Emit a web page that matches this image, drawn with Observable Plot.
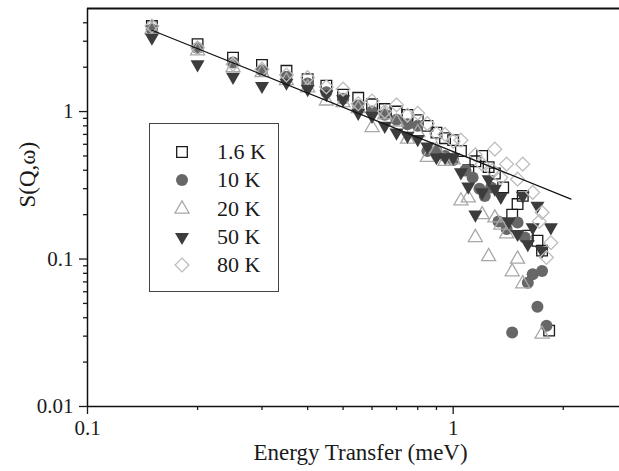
<!DOCTYPE html>
<html>
<head>
<meta charset="utf-8">
<script src="https://cdn.jsdelivr.net/npm/d3@7"></script>
<script src="https://cdn.jsdelivr.net/npm/@observablehq/plot@0.6"></script>
<style>
  body { margin: 0; background: white; }
  #wrap { position: relative; width: 619px; height: 471px; font-family: "Liberation Serif", serif; }
  #legend { position: absolute; left: 149px; top: 123px; width: 130px; height: 169px; border: 1px solid #444; background: white; box-sizing: border-box; }
  .row { position: absolute; left: 0; height: 24px; width: 128px; }
  .row svg { position: absolute; left: 21px; top: 1px; }
  .row span { position: absolute; left: 67px; top: 0; font-size: 22px; line-height: 24px; color: #1a1a1a; }
</style>
</head>
<body>
<div id="wrap"><div id="legend"></div></div>
<script>
// ---- data ----
const seriesNames = ["1.6 K", "10 K", "20 K", "50 K", "80 K"];

const x16 = [0.15,0.2,0.25,0.3,0.35,0.4,0.45,0.5,0.55,0.6,0.65,0.7,0.75,0.8,0.85,0.9,0.95,1.0,1.05,1.1,1.15,1.2,1.25,1.3,1.37,1.45,1.5,1.55,1.6,1.7,1.75,1.83];
const y16 = [3.8,2.86,2.32,2.07,1.89,1.66,1.5,1.3,1.24,1.12,1.04,1.0,0.95,0.875,0.8,0.72,0.66,0.64,0.54,0.4,0.46,0.5,0.42,0.38,0.306,0.2,0.236,0.268,0.144,0.133,0.114,0.0327];

const x10 = [0.15,0.2,0.25,0.3,0.35,0.4,0.45,0.5,0.55,0.6,0.65,0.7,0.75,0.8,0.85,0.9,0.95,1.0,1.08,1.13,1.18,1.22,1.27,1.33,1.4,1.45,1.5,1.57,1.6,1.65,1.7,1.75,1.8];
const y10 = [3.6,2.7,2.15,1.9,1.72,1.55,1.35,1.22,1.1,1.0,0.95,0.88,0.82,0.8,0.54,0.54,0.5,0.47,0.4,0.357,0.3,0.268,0.306,0.18,0.16,0.0318,0.177,0.14,0.069,0.079,0.0475,0.083,0.0353];

const x20 = [0.15,0.2,0.25,0.3,0.35,0.4,0.45,0.5,0.55,0.6,0.65,0.7,0.75,0.8,0.85,0.9,0.95,1.0,1.05,1.1,1.15,1.2,1.25,1.3,1.35,1.4,1.45,1.5,1.55,1.75];
const y20 = [3.6,2.58,1.99,1.84,1.62,1.45,1.18,1.15,1.05,0.78,0.95,0.85,0.65,0.72,0.49,0.55,0.46,0.47,0.248,0.26,0.14,0.2,0.104,0.19,0.17,0.148,0.082,0.1,0.068,0.031];

const x50 = [0.15,0.2,0.25,0.3,0.35,0.4,0.45,0.5,0.55,0.6,0.65,0.7,0.75,0.8,0.85,0.9,0.95,1.0,1.05,1.1,1.15,1.2,1.25,1.3,1.35,1.42,1.5,1.55,1.6,1.65,1.7,1.75,1.85];
const y50 = [3.17,2.09,1.72,1.49,1.57,1.42,1.31,1.21,0.98,0.935,0.8,0.72,0.685,0.65,0.58,0.49,0.49,0.49,0.387,0.31,0.2,0.283,0.348,0.3,0.264,0.18,0.148,0.268,0.126,0.164,0.23,0.114,0.164];

const x80 = [0.15,0.2,0.25,0.3,0.35,0.4,0.45,0.5,0.55,0.6,0.65,0.7,0.75,0.8,0.85,0.9,0.95,1.0,1.05,1.15,1.2,1.28,1.3,1.35,1.4,1.5,1.55,1.65,1.72,1.75,1.8,1.85];
const y80 = [3.8,2.71,2.09,1.94,1.77,1.7,1.47,1.42,1.13,1.18,1.0,1.11,0.945,0.975,0.829,0.71,0.7,0.63,0.64,0.509,0.44,0.4,0.556,0.357,0.44,0.348,0.44,0.283,0.18,0.207,0.1025,0.129];

const fitX = [0.15, 2.1];
const fitY = [3.56, 0.255];

const xMajor = [0.1, 1];
const xMinor = [0.2,0.3,0.4,0.5,0.6,0.7,0.8,0.9,2];
const yMajor = [0.01, 0.1, 1];
const yMinor = [0.02,0.03,0.04,0.05,0.06,0.07,0.08,0.09,0.2,0.3,0.4,0.5,0.6,0.7,0.8,0.9,2,3,4];

const xLabel = "Energy Transfer (meV)";
const yLabel = "S(Q,ω)";

// ---- helpers ----
const zip = (xs, ys) => xs.map((x, i) => ({x, y: ys[i]}));
const triDown = {
  draw(ctx, size) {
    const y = -Math.sqrt(size / (Math.sqrt(3) * 3));
    ctx.moveTo(0, -y * 2);
    ctx.lineTo(-Math.sqrt(3) * y, y);
    ctx.lineTo(Math.sqrt(3) * y, y);
    ctx.closePath();
  }
};

const styles = [
  {symbol: "square",   r: 6.0, fill: "none", stroke: "#1a1a1a", strokeWidth: 1.3},
  {symbol: "circle",   r: 6.0, fill: "#676767", stroke: "none"},
  {symbol: "triangle", r: 5.2, fill: "none", stroke: "#a8a8a8", strokeWidth: 1.3},
  {symbol: triDown,    r: 5.2, fill: "#3c3c3c", stroke: "none"},
  {symbol: "diamond2", r: 6.2, fill: "none", stroke: "#bdbdbd", strokeWidth: 1.3}
];
const sets = [zip(x16,y16), zip(x10,y10), zip(x20,y20), zip(x50,y50), zip(x80,y80)];

const chart = Plot.plot({
  width: 619, height: 471,
  marginLeft: 87, marginRight: 0, marginTop: 8, marginBottom: 65,
  x: {type: "log", domain: [0.1, 2.85]},
  y: {type: "log", domain: [0.01, 5]},
  style: {fontFamily: "Liberation Serif", fontSize: "21px", color: "#1a1a1a", background: "white"},
  marks: [
    ...sets.map((d, i) => Plot.dot(d, {x: "x", y: "y", ...styles[i]})),
    Plot.line(zip(fitX, fitY), {x: "x", y: "y", stroke: "#111", strokeWidth: 1.2}),
    Plot.ruleX([0.1], {stroke: "#111", strokeWidth: 1.5}),
    Plot.ruleY([0.01], {stroke: "#111", strokeWidth: 1.5}),
    Plot.ruleY([5], {stroke: "#111", strokeWidth: 2}),
    Plot.axisX({ticks: xMajor, tickSize: 8, tickPadding: 6, tickFormat: d => String(d), label: null, strokeWidth: 1.3}),
    Plot.axisX({ticks: xMinor, tickSize: 4, tickFormat: () => "", label: null, strokeWidth: 1.3}),
    Plot.axisY({ticks: yMajor, tickSize: 8, tickPadding: 6, tickFormat: d => String(d), label: null, strokeWidth: 1.3}),
    Plot.axisY({ticks: yMinor, tickSize: 4, tickFormat: () => "", label: null, strokeWidth: 1.3}),
    Plot.text([xLabel], {frameAnchor: "bottom", dy: 53, dx: 7, fontSize: 23, text: d => d}),
    Plot.text([yLabel], {frameAnchor: "left", dx: -60, rotate: -90, fontSize: 23, text: d => d})
  ]
});
document.getElementById("wrap").prepend(chart);

// legend (HTML)
const legend = document.getElementById("legend");
const rowY = [29, 57, 86, 114, 142];
seriesNames.forEach((name, i) => {
  const s = styles[i];
  const row = document.createElement("div");
  row.className = "row";
  row.style.top = (rowY[i] - 12 - 1) + "px";
  const svg = d3.create("svg").attr("width", 22).attr("height", 22);
  const sym = typeof s.symbol === "string"
    ? {square: d3.symbolSquare, circle: d3.symbolCircle, triangle: d3.symbolTriangle, diamond2: d3.symbolDiamond2}[s.symbol]
    : s.symbol;
  svg.append("path")
    .attr("transform", "translate(11,11)")
    .attr("d", d3.symbol(sym, Math.PI * s.r * s.r)())
    .attr("fill", s.fill).attr("stroke", s.stroke).attr("stroke-width", s.strokeWidth || 0);
  row.appendChild(svg.node());
  const t = document.createElement("span");
  t.textContent = name;
  row.appendChild(t);
  legend.appendChild(row);
});
</script>
</body>
</html>
